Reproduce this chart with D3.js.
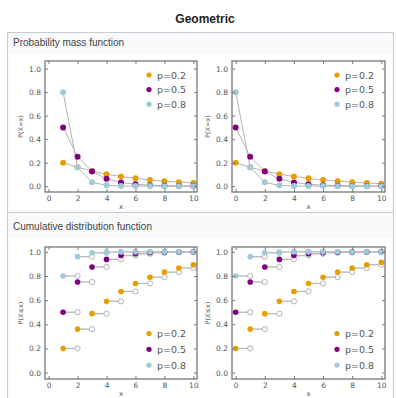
<!DOCTYPE html>
<html>
<head>
<meta charset="utf-8">
<script src="https://cdn.jsdelivr.net/npm/d3@7"></script>
<style>
  body { margin: 0; background: #fff; }
  text { font-family: "DejaVu Sans", sans-serif; }
  .sans { font-family: "Liberation Sans", Arial, sans-serif; }
</style>
</head>
<body>
<svg id="chart" width="396" height="398"></svg>
<script>
// Series and labels
const seriesLabels = ['p=0.2', 'p=0.5', 'p=0.8'];
const seriesColors = ['#e69f00', '#800080', '#9ccbdc'];

// PMF, support starting at 1 (left) and at 0 (right)
const pmfX1 = [1, 2, 3, 4, 5, 6, 7, 8, 9, 10];
const pmfX0 = [0, 1, 2, 3, 4, 5, 6, 7, 8, 9, 10];
const pmfP02 = [0.2, 0.16, 0.128, 0.102, 0.082, 0.066, 0.052, 0.042, 0.034, 0.027, 0.021];
const pmfP05 = [0.5, 0.25, 0.125, 0.0625, 0.031, 0.016, 0.008, 0.004, 0.002, 0.001, 0.0005];
const pmfP08 = [0.8, 0.16, 0.032, 0.0064, 0.0013, 0.0003, 0.0001, 0, 0, 0, 0];

// CDF step values
const cdfP02 = [0.2, 0.36, 0.488, 0.59, 0.672, 0.738, 0.79, 0.832, 0.866, 0.893, 0.914];
const cdfP05 = [0.5, 0.75, 0.875, 0.9375, 0.969, 0.984, 0.992, 0.996, 0.998, 0.999, 1.0];
const cdfP08 = [0.8, 0.96, 0.992, 0.998, 1.0, 1.0, 1.0, 1.0, 1.0, 1.0, 1.0];

const xTicks = [0, 2, 4, 6, 8, 10];
const yTicks = [0, 0.2, 0.4, 0.6, 0.8, 1.0];

const svg = d3.select('#chart');

// Title
svg.append('text')
  .attr('class', 'sans')
  .attr('x', 205).attr('y', 23)
  .attr('text-anchor', 'middle')
  .attr('font-size', 12).attr('font-weight', 'bold')
  .attr('fill', '#222')
  .text('Geometric');

// Infobox frame
svg.append('rect')
  .attr('x', 7.5).attr('y', 32.5).attr('width', 386).attr('height', 370)
  .attr('fill', '#f8f9fa').attr('stroke', '#c8ccd1');
svg.append('rect')
  .attr('x', 9).attr('y', 54).attr('width', 383).attr('height', 157)
  .attr('fill', '#fff');
svg.append('line')
  .attr('x1', 8).attr('x2', 393).attr('y1', 212.5).attr('y2', 212.5)
  .attr('stroke', '#c8ccd1');
svg.append('rect')
  .attr('x', 9).attr('y', 238).attr('width', 383).attr('height', 160)
  .attr('fill', '#fff');

const headerStyle = sel => sel.attr('class', 'sans').attr('font-size', 10).attr('fill', '#444');
svg.append('text').attr('x', 13).attr('y', 46).call(headerStyle).text('Probability mass function');
svg.append('text').attr('x', 13).attr('y', 230).call(headerStyle).text('Cumulative distribution function');

function drawPanel(opts) {
  const x = d3.scaleLinear().domain([-0.25, 10.25]).range(opts.xr);
  const y = d3.scaleLinear().domain(opts.yd).range(opts.yr);
  const g = svg.append('g');
  const clipId = 'clip' + Math.round(opts.xr[0]) + '_' + Math.round(opts.yr[0]);
  g.append('clipPath').attr('id', clipId)
    .append('rect')
    .attr('x', opts.xr[0]).attr('y', opts.yr[1])
    .attr('width', opts.xr[1] - opts.xr[0]).attr('height', opts.yr[0] - opts.yr[1]);

  g.append('rect')
    .attr('x', opts.xr[0]).attr('y', opts.yr[1])
    .attr('width', opts.xr[1] - opts.xr[0]).attr('height', opts.yr[0] - opts.yr[1])
    .attr('fill', '#fff');

  const plot = g.append('g').attr('clip-path', 'url(#' + clipId + ')');
  opts.draw(plot, x, y);

  // frame
  g.append('rect')
    .attr('x', opts.xr[0]).attr('y', opts.yr[1])
    .attr('width', opts.xr[1] - opts.xr[0]).attr('height', opts.yr[0] - opts.yr[1])
    .attr('fill', 'none').attr('stroke', '#777').attr('stroke-width', 1.3);

  // axes (ticks inward on all sides)
  const axStyle = a => {
    a.select('.domain').remove();
    a.selectAll('line').attr('stroke', '#777');
    a.selectAll('text').attr('fill', '#555').attr('font-size', 7.5);
  };
  g.append('g').attr('transform', `translate(0,${opts.yr[0]})`)
    .call(d3.axisBottom(x).tickValues(xTicks).tickFormat(d3.format('d')).tickSizeInner(-3).tickPadding(4))
    .call(axStyle);
  g.append('g').attr('transform', `translate(0,${opts.yr[1]})`)
    .call(d3.axisTop(x).tickValues(xTicks).tickSizeInner(-3).tickFormat(''))
    .call(axStyle);
  g.append('g').attr('transform', `translate(${opts.xr[0]},0)`)
    .call(d3.axisLeft(y).tickValues(yTicks).tickFormat(d3.format('.1f')).tickSizeInner(-3).tickPadding(4))
    .call(axStyle);
  g.append('g').attr('transform', `translate(${opts.xr[1]},0)`)
    .call(d3.axisRight(y).tickValues(yTicks).tickSizeInner(-3).tickFormat(''))
    .call(axStyle);

  // axis labels
  g.append('text')
    .attr('x', (opts.xr[0] + opts.xr[1]) / 2).attr('y', opts.yr[0] + 17)
    .attr('text-anchor', 'middle').attr('font-size', 7).attr('fill', '#555')
    .text('x');
  g.append('text')
    .attr('transform', `translate(${opts.xr[0] - 22},${(opts.yr[0] + opts.yr[1]) / 2}) rotate(-90)`)
    .attr('text-anchor', 'middle').attr('font-size', 6.5).attr('fill', '#555')
    .text(opts.ylabel);

  // legend
  const lg = g.append('g');
  seriesLabels.forEach((lab, i) => {
    const ly = opts.legendY + i * opts.legendStep;
    lg.append('circle')
      .attr('cx', opts.xr[1] - 48).attr('cy', ly).attr('r', 2.6)
      .attr('fill', seriesColors[i]);
    lg.append('text')
      .attr('x', opts.xr[1] - 40).attr('y', ly + 3.5)
      .attr('font-size', 9.5).attr('fill', '#555')
      .text(lab);
  });
}

function pmfDraw(xs) {
  const series = [pmfP02, pmfP05, pmfP08];
  return (plot, x, y) => {
    series.forEach(vals => {
      const pts = xs.map((xv, i) => [xv, vals[i]]);
      plot.append('path')
        .attr('d', d3.line().x(d => x(d[0])).y(d => y(d[1]))(pts))
        .attr('fill', 'none').attr('stroke', '#aaa').attr('stroke-width', 0.9);
    });
    series.forEach((vals, si) => {
      plot.selectAll(null)
        .data(xs.map((xv, i) => [xv, vals[i]]))
        .enter().append('circle')
        .attr('cx', d => x(d[0])).attr('cy', d => y(d[1])).attr('r', 3)
        .attr('fill', seriesColors[si]);
    });
  };
}

function cdfDraw(xs) {
  const series = [cdfP02, cdfP05, cdfP08];
  return (plot, x, y) => {
    series.forEach(vals => {
      const steps = xs.map((xv, i) => [xv, vals[i]]);
      plot.selectAll(null).data(steps).enter().append('line')
        .attr('x1', d => x(d[0])).attr('x2', d => x(d[0] + 1))
        .attr('y1', d => y(d[1])).attr('y2', d => y(d[1]))
        .attr('stroke', '#bbb').attr('stroke-width', 1.4);
    });
    series.forEach(vals => {
      const steps = xs.map((xv, i) => [xv, vals[i]]);
      plot.selectAll(null).data(steps).enter().append('circle')
        .attr('cx', d => x(d[0] + 1)).attr('cy', d => y(d[1])).attr('r', 2.6)
        .attr('fill', '#fff').attr('stroke', '#aaa').attr('stroke-width', 0.9);
    });
    series.forEach((vals, si) => {
      const steps = xs.map((xv, i) => [xv, vals[i]]);
      plot.selectAll(null).data(steps).enter().append('circle')
        .attr('cx', d => x(d[0])).attr('cy', d => y(d[1])).attr('r', 2.8)
        .attr('fill', seriesColors[si]);
    });
  };
}

const pmfY = { yd: [-0.05, 1.065], yr: [192, 61] };
const cdfY = { yd: [-0.053, 1.04], yr: [379, 247] };

drawPanel({ xr: [45, 197], ...pmfY, ylabel: 'P(X=x)', legendY: 75, legendStep: 14.6, draw: pmfDraw(pmfX1) });
drawPanel({ xr: [232, 385], ...pmfY, ylabel: 'P(X=x)', legendY: 75, legendStep: 14.6, draw: pmfDraw(pmfX0) });
drawPanel({ xr: [45, 197], ...cdfY, ylabel: 'P(X\u2264x)', legendY: 333.5, legendStep: 15.8, draw: cdfDraw(pmfX1) });
drawPanel({ xr: [232, 385], ...cdfY, ylabel: 'P(X\u2264x)', legendY: 333.5, legendStep: 15.8, draw: cdfDraw(pmfX0) });
</script>
</body>
</html>
